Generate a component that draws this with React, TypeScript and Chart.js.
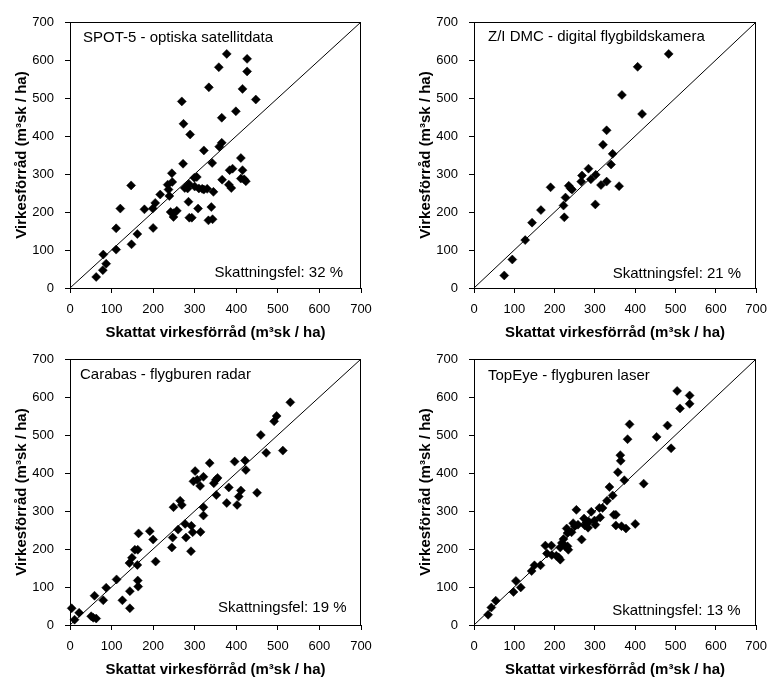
import React, { useEffect, useRef } from "react";
import { Chart, registerables } from "chart.js";

Chart.register(...registerables);

const FONT = '"Liberation Sans", Arial, Helvetica, sans-serif';

const axisMin = 0;
const axisMax = 700;
const axisStep = 100;
const xAxisTitle = "Skattat virkesförråd (m³sk / ha)";
const yAxisTitle = "Virkesförråd (m³sk / ha)";

// Panel 1: SPOT-5
const spotTitle = "SPOT-5 - optiska satellitdata";
const spotError = "Skattningsfel: 32 %";
const spotX = [63, 80, 87, 79, 111, 111, 121, 147, 148, 162, 179, 200, 199, 205, 217, 235, 237, 239, 245, 246, 242, 249, 249, 257, 269, 273, 272, 276, 283, 289, 286, 285, 287, 293, 299, 305, 300, 310, 308, 322, 318, 330, 322, 334, 342, 345, 333, 343, 340, 358, 377, 359, 365, 365, 366, 382, 384, 391, 388, 399, 411, 411, 415, 415, 419, 423, 426, 426, 447];
const spotY = [29, 88, 64, 47, 157, 101, 209, 270, 115, 142, 207, 158, 209, 224, 246, 272, 259, 242, 302, 279, 200, 197, 187, 203, 491, 432, 327, 263, 262, 404, 274, 227, 185, 185, 290, 292, 267, 262, 209, 362, 261, 261, 259, 528, 329, 253, 178, 181, 213, 581, 616, 372, 382, 448, 285, 272, 310, 314, 263, 465, 342, 288, 310, 524, 286, 281, 570, 603, 496];

// Panel 2: Z/I DMC
const dmcTitle = "Z/I DMC - digital flygbildskamera";
const dmcError = "Skattningsfel: 21 %";
const dmcX = [75, 95, 127, 144, 166, 190, 222, 224, 227, 235, 240, 243, 266, 268, 284, 290, 302, 301, 315, 329, 320, 329, 340, 344, 360, 367, 406, 417, 483];
const dmcY = [33, 75, 126, 172, 205, 265, 217, 186, 238, 269, 262, 259, 280, 296, 314, 286, 298, 220, 271, 280, 377, 415, 325, 353, 268, 508, 582, 458, 616];

// Panel 3: Carabas
const carabasTitle = "Carabas - flygburen radar";
const carabasError = "Skattningsfel: 19 %";
const carabasX = [4, 11, 22, 51, 56, 63, 59, 80, 87, 112, 126, 144, 144, 143, 149, 156, 163, 162, 163, 164, 165, 192, 200, 206, 245, 247, 249, 260, 265, 269, 277, 279, 292, 295, 291, 297, 301, 306, 313, 314, 321, 321, 321, 336, 346, 351, 355, 352, 377, 382, 396, 402, 406, 411, 421, 423, 450, 459, 472, 491, 497, 512, 530];
const carabasY = [44, 14, 32, 23, 19, 17, 77, 65, 98, 120, 65, 89, 44, 163, 177, 198, 198, 158, 117, 101, 241, 247, 225, 167, 204, 230, 310, 251, 327, 316, 266, 230, 261, 244, 194, 378, 405, 382, 366, 245, 390, 310, 288, 426, 373, 382, 387, 342, 321, 362, 430, 316, 338, 354, 433, 408, 348, 500, 453, 536, 550, 459, 586];

// Panel 4: TopEye
const topeyeTitle = "TopEye - flygburen laser";
const topeyeError = "Skattningsfel: 13 %";
const topeyeX = [35, 43, 54, 98, 104, 116, 143, 150, 165, 177, 181, 192, 193, 204, 210, 214, 214, 218, 222, 226, 230, 232, 234, 232, 242, 246, 250, 254, 258, 267, 273, 275, 279, 283, 285, 291, 299, 301, 311, 313, 319, 330, 336, 344, 347, 352, 352, 357, 363, 364, 366, 373, 377, 381, 386, 400, 421, 453, 480, 489, 504, 511, 535, 535];
const topeyeY = [27, 46, 64, 87, 116, 99, 142, 157, 157, 209, 188, 209, 184, 182, 178, 172, 204, 216, 226, 207, 254, 242, 198, 207, 244, 268, 260, 303, 264, 225, 280, 262, 270, 256, 272, 298, 275, 264, 308, 283, 308, 327, 363, 341, 290, 290, 262, 402, 447, 432, 260, 381, 254, 489, 528, 266, 372, 495, 525, 465, 616, 570, 604, 582];

type PanelProps = {
  xs: number[];
  ys: number[];
  title: string;
  error: string;
  left: number;
  top: number;
  width: number;
  height: number;
  areaTop: number;
  areaBottom: number;
  areaRight: number;
  titleDx: number;
  titleDy: number;
  errDx: number;
  errDy: number;
};

function Panel(p: PanelProps) {
  const ref = useRef<HTMLCanvasElement | null>(null);
  useEffect(() => {
    if (!ref.current) return;
    const points = p.xs.map((x, i) => ({ x, y: p.ys[i] }));
    const framePlugin = {
      id: "frameAndText",
      afterDraw(chart: any) {
        const { ctx, chartArea } = chart;
        const { left, top, right, bottom } = chartArea;
        ctx.save();
        ctx.strokeStyle = "#000";
        ctx.lineWidth = 1;
        ctx.beginPath();
        ctx.moveTo(Math.round(left) + 0.5, Math.round(top) + 0.5);
        ctx.lineTo(Math.round(right) - 0.5, Math.round(top) + 0.5);
        ctx.lineTo(Math.round(right) - 0.5, Math.round(bottom));
        ctx.stroke();
        ctx.fillStyle = "#000";
        ctx.font = `15px ${FONT}`;
        ctx.textBaseline = "middle";
        ctx.textAlign = "left";
        ctx.fillText(p.title, left + p.titleDx, top + p.titleDy);
        ctx.textAlign = "right";
        ctx.fillText(p.error, right - p.errDx, bottom - p.errDy);
        ctx.restore();
      },
    };
    const chart = new Chart(ref.current, {
      type: "scatter",
      data: {
        datasets: [
          {
            data: points,
            pointStyle: "rectRot",
            pointRadius: 4.5,
            pointHoverRadius: 4.5,
            backgroundColor: "#000",
            borderColor: "#000",
            borderWidth: 0.5,
            clip: false,
            order: 1,
          } as any,
          {
            type: "line",
            data: [
              { x: axisMin, y: axisMin },
              { x: axisMax, y: axisMax },
            ],
            borderColor: "#000",
            borderWidth: 1,
            pointRadius: 0,
            showLine: true,
            fill: false,
            order: 2,
          } as any,
        ],
      },
      options: {
        animation: false,
        responsive: false,
        maintainAspectRatio: false,
        devicePixelRatio: 1,
        events: [],
        layout: { padding: { top: p.areaTop, right: p.width - p.areaRight, bottom: 0, left: 0 } },
        plugins: { legend: { display: false }, tooltip: { enabled: false } },
        scales: {
          x: {
            type: "linear",
            min: axisMin,
            max: axisMax,
            ticks: { stepSize: axisStep, color: "#000", font: { size: 13, family: FONT }, padding: 9, maxRotation: 0, autoSkip: false },
            grid: { display: true, drawOnChartArea: false, drawTicks: true, tickLength: 5, color: "#000" },
            border: { display: true, color: "#000", width: 1 },
            title: {
              display: true,
              text: xAxisTitle,
              color: "#000",
              font: { size: 15, weight: "bold", family: FONT },
              padding: { top: 0, bottom: 0 },
            },
            afterFit: (s: any) => {
              s.height = p.height - p.areaBottom;
            },
          },
          y: {
            type: "linear",
            min: axisMin,
            max: axisMax,
            ticks: { stepSize: axisStep, color: "#000", font: { size: 13, family: FONT }, padding: 11 },
            grid: { display: true, drawOnChartArea: false, drawTicks: true, tickLength: 5, color: "#000" },
            border: { display: true, color: "#000", width: 1 },
            title: {
              display: true,
              text: yAxisTitle,
              color: "#000",
              font: { size: 15, weight: "bold", family: FONT },
              padding: { top: 12.5, bottom: 0 },
            },
            afterFit: (s: any) => {
              s.width = 70;
            },
          },
        },
      } as any,
      plugins: [framePlugin],
    });
    return () => chart.destroy();
  }, []);
  return (
    <canvas
      ref={ref}
      width={p.width}
      height={p.height}
      style={{ position: "absolute", left: p.left, top: p.top, width: p.width, height: p.height }}
    />
  );
}

export default function App() {
  return (
    <div style={{ position: "absolute", left: 0, top: 0, width: 776, height: 679, overflow: "hidden", background: "#fff" }}>
      <Panel xs={spotX} ys={spotY} title={spotTitle} error={spotError}
        left={0} top={0} width={404} height={342} areaTop={22} areaBottom={288} areaRight={361}
        titleDx={13} titleDy={16} errDx={18} errDy={15} />
      <Panel xs={dmcX} ys={dmcY} title={dmcTitle} error={dmcError}
        left={404} top={0} width={372} height={342} areaTop={22} areaBottom={288} areaRight={361}
        titleDx={14} titleDy={15} errDx={15} errDy={14.5} />
      <Panel xs={carabasX} ys={carabasY} title={carabasTitle} error={carabasError}
        left={0} top={337} width={404} height={342} areaTop={22} areaBottom={288} areaRight={361}
        titleDx={10} titleDy={16} errDx={14.5} errDy={17.5} />
      <Panel xs={topeyeX} ys={topeyeY} title={topeyeTitle} error={topeyeError}
        left={404} top={337} width={372} height={342} areaTop={22} areaBottom={288} areaRight={361}
        titleDx={14} titleDy={17} errDx={15.5} errDy={14} />
    </div>
  );
}
